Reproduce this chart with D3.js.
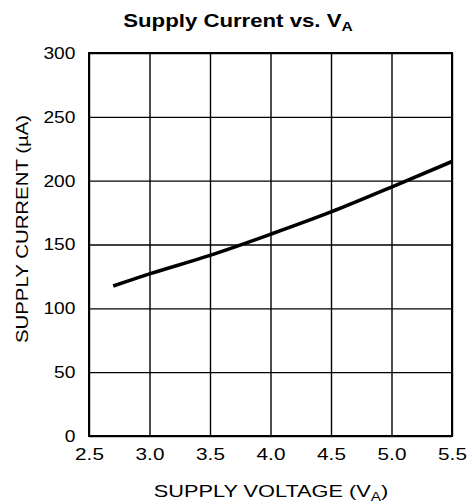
<!DOCTYPE html>
<html>
<head>
<meta charset="utf-8">
<script src="https://cdn.jsdelivr.net/npm/d3@7"></script>
<style>
  body { margin: 0; background: white; }
  svg { display: block; font-family: "Liberation Sans", Arial, sans-serif; }
</style>
</head>
<body>
<div id="chart"></div>
<script>
// values
let voltage = [2.7, 3.0, 3.5, 4.0, 4.5, 5.0, 5.5];
let current = [117.5, 127, 141.5, 158, 175.5, 195, 215];
let xTicks = [2.5, 3.0, 3.5, 4.0, 4.5, 5.0, 5.5];
let yTicks = [0, 50, 100, 150, 200, 250, 300];

let margin = {top: 53, right: 19, bottom: 67, left: 89},
    width = 471 - margin.left - margin.right,
    height = 503 - margin.top - margin.bottom;

let svg = d3.select("#chart")
  .append("svg")
    .attr("width", 471)
    .attr("height", 503);

let g = svg.append("g")
    .attr("transform", "translate(" + margin.left + "," + margin.top + ")");

let x = d3.scaleLinear().domain([2.5, 5.5]).range([0, width]);
let y = d3.scaleLinear().domain([0, 300]).range([height, 0]);

// grid + x tick labels
let xAxis = g.append("g")
    .attr("transform", "translate(0," + height + ")")
    .call(d3.axisBottom(x)
      .tickValues(xTicks)
      .tickSize(-height)
      .tickPadding(12)
      .tickFormat(d3.format(".1f")));
xAxis.select(".domain").remove();
xAxis.selectAll("line").attr("stroke", "#000").attr("stroke-width", 1.4);
xAxis.selectAll("text")
    .attr("fill", "#000")
    .attr("font-size", 17)
    .attr("dy", "0.71em")
    .attr("transform", "scale(1.22,1)");

let yAxis = g.append("g")
    .call(d3.axisLeft(y)
      .tickValues(yTicks)
      .tickSize(-width)
      .tickPadding(12));
yAxis.select(".domain").remove();
yAxis.selectAll("line").attr("stroke", "#000").attr("stroke-width", 1.4);
yAxis.selectAll("text")
    .attr("fill", "#000")
    .attr("font-size", 17)
    .attr("transform", "scale(1.13,1)");

// frame
g.append("rect")
    .attr("x", 0).attr("y", 0)
    .attr("width", width).attr("height", height)
    .attr("fill", "none")
    .attr("stroke", "#000")
    .attr("stroke-width", 2);

// curve
let pts = voltage.map(function(v, i) { return [v, current[i]]; });
g.append("path")
    .datum(pts)
    .attr("fill", "none")
    .attr("stroke", "#000")
    .attr("stroke-width", 3.6)
    .attr("d", d3.line()
      .x(function(d) { return x(d[0]); })
      .y(function(d) { return y(d[1]); })
      .curve(d3.curveMonotoneX));

// title
let title = svg.append("text")
    .attr("transform", "translate(238,27) scale(1.2,1)")
    .attr("text-anchor", "middle")
    .attr("font-size", 18.5)
    .attr("font-weight", "bold");
title.append("tspan").text("Supply Current vs. V");
title.append("tspan").attr("font-size", 13).attr("dy", 4).text("A");

// x label
let xl = svg.append("text")
    .attr("transform", "translate(271,497) scale(1.28,1)")
    .attr("text-anchor", "middle")
    .attr("font-size", 17);
xl.append("tspan").text("SUPPLY VOLTAGE (V");
xl.append("tspan").attr("font-size", 12).attr("dy", 4).text("A");
xl.append("tspan").attr("dy", -4).text(")");

// y label
svg.append("text")
    .attr("transform", "translate(28,229) rotate(-90) scale(1.2,1)")
    .attr("text-anchor", "middle")
    .attr("font-size", 17)
    .text("SUPPLY CURRENT (\u00B5A)");
</script>
</body>
</html>
